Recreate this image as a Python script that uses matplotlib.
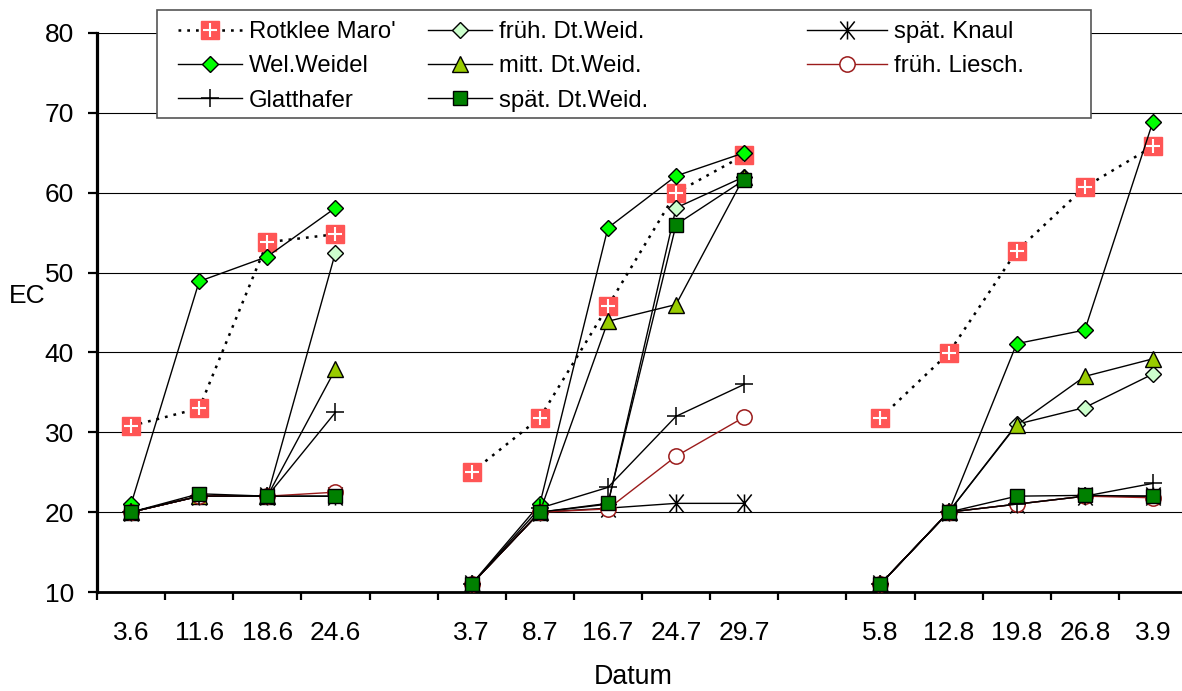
import numpy as np
import matplotlib
matplotlib.use("Agg")
import matplotlib.pyplot as plt
from matplotlib.path import Path
from matplotlib.patches import Rectangle

nan = np.nan

categories = ["3.6", "11.6", "18.6", "24.6", "", "3.7", "8.7", "16.7", "24.7", "29.7",
              "", "5.8", "12.8", "19.8", "26.8", "3.9"]

rotklee = [30.8, 33.0, 53.8, 54.8, nan, 25.0, 31.8, 45.8, 60.0, 64.7, nan, 31.8, 39.9, 52.7, 60.7, 65.8]
wel_weidel = [21.0, 48.9, 52.0, 58.1, nan, 11.0, 21.0, 55.6, 62.1, 65.0, nan, 11.0, 20.0, 41.1, 42.8, 68.9]
glatthafer = [20.0, 22.0, 22.0, 32.5, nan, 11.0, 20.5, 23.1, 32.0, 36.0, nan, 11.0, 20.0, 21.0, 22.0, 23.6]
frueh_dt = [20.0, 22.0, 22.0, 52.5, nan, 11.0, 20.0, 21.0, 58.1, 62.0, nan, 11.0, 20.0, 31.0, 33.1, 37.3]
mitt_dt = [20.0, 22.0, 22.0, 37.9, nan, 11.0, 20.0, 43.9, 46.0, 62.0, nan, 11.0, 20.0, 30.9, 37.0, 39.2]
spaet_dt = [20.0, 22.3, 22.0, 22.0, nan, 11.0, 20.0, 21.1, 56.0, 61.6, nan, 11.0, 20.0, 22.0, 22.1, 22.0]
spaet_knaul = [20.0, 22.0, 22.0, 22.0, nan, 11.0, 20.0, 20.5, 21.1, 21.1, nan, 11.0, 20.0, 21.0, 22.0, 22.0]
frueh_liesch = [20.0, 22.0, 22.0, 22.5, nan, 11.0, 20.0, 20.4, 27.0, 31.9, nan, 11.0, 20.0, 21.0, 22.0, 21.8]

labels = ["Rotklee Maro'", "Wel.Weidel", "Glatthafer", "früh. Dt.Weid.", "mitt. Dt.Weid.",
          "spät. Dt.Weid.", "spät. Knaul", "früh. Liesch."]

plt.rcParams['font.family'] = ['Liberation Sans', 'DejaVu Sans']

W, H = 1182, 691
fig = plt.figure(figsize=(W / 100, H / 100), dpi=100)
ax = fig.add_axes([97 / W, 1 - 592 / H, 1090 / W, (592 - 33) / H])

x = np.arange(len(categories))

knaul_marker = Path([(-0.8, -1), (0.8, 1), (-0.8, 1), (0.8, -1), (0, -1), (0, 1)],
                    [Path.MOVETO, Path.LINETO, Path.MOVETO, Path.LINETO, Path.MOVETO, Path.LINETO])

lw = 1.0
red = '#FF5555'
# draw order: Rotklee, früh Dt, Knaul, Wel, mitt, Liesch, Glatthafer, spät Dt
h_rot_line, = ax.plot(x, rotklee, color='black', lw=1.8, linestyle=(0, (1.1, 2.4)),
                      marker='s', ms=13.5, mfc=red, mec=red, zorder=3.0)
h_rot_plus, = ax.plot(x, rotklee, linestyle='none', marker='+', ms=9.5, mec='white', mew=1.5, zorder=3.05)
h_fru, = ax.plot(x, frueh_dt, color='black', lw=lw, marker='D', ms=8, mfc='#CCFFCC', mec='black', mew=1, zorder=3.1)
h_kna, = ax.plot(x, spaet_knaul, color='black', lw=lw, marker=knaul_marker, ms=13, mfc='none', mec='black', mew=1.1, zorder=3.2)
h_wel, = ax.plot(x, wel_weidel, color='black', lw=lw, marker='D', ms=8, mfc='#00FF00', mec='black', mew=1, zorder=3.3)
h_mit, = ax.plot(x, mitt_dt, color='black', lw=lw, marker='^', ms=11, mfc='#99CC00', mec='black', mew=1, zorder=3.4)
h_lie, = ax.plot(x, frueh_liesch, color='#9B1B1B', lw=lw, marker='o', ms=11, mfc='white', mec='#9B1B1B', mew=1.1, zorder=3.5)
h_gla, = ax.plot(x, glatthafer, color='black', lw=lw, marker='+', ms=13, mec='black', mew=1.1, zorder=3.6)
h_spd, = ax.plot(x, spaet_dt, color='black', lw=lw, marker='s', ms=10, mfc='#008000', mec='black', mew=1, zorder=3.7)

ax.set_xlim(-0.5, len(categories) - 0.5)
ax.set_ylim(10, 80)
ax.set_yticks(np.arange(10, 81, 10))
ax.yaxis.grid(True, color='black', lw=0.8)
ax.set_axisbelow(True)

ax.set_xticks(np.arange(-0.5, len(categories), 1.0))
ax.set_xticklabels([])
ax.set_xticks(x, minor=True)
ax.set_xticklabels(categories, minor=True)
ax.tick_params(axis='x', which='major', length=6, width=1.6, direction='out')
ax.tick_params(axis='x', which='minor', length=0, pad=21, labelsize=19)
ax.tick_params(axis='y', which='major', length=6.5, width=1.6, pad=10, labelsize=19)

for s in ['top', 'right']:
    ax.spines[s].set_visible(False)
ax.spines['left'].set_linewidth(2.3)
ax.spines['bottom'].set_linewidth(2.0)

fig.text(633 / W, 1 - 677 / H, "Datum", ha='center', va='center', fontsize=19.3)
fig.text(27 / W, 1 - 296 / H, "EC", ha='center', va='center', fontsize=19)

# legend frame
rect = Rectangle((157 / W, 1 - 118 / H), (1091 - 157) / W, (118 - 10) / H, transform=fig.transFigure,
                 facecolor='white', edgecolor='#555555', lw=1.2, zorder=4)
fig.add_artist(rect)

common = dict(loc='upper left', frameon=False, borderpad=0, handletextpad=0.29,
              labelspacing=0.52, fontsize=17.2, borderaxespad=0)
top = 1 - 21 / H
leg1 = fig.legend([(h_rot_line, h_rot_plus), h_wel, h_gla], labels[0:3],
                  bbox_to_anchor=(178 / W, top), handlelength=2.68, **common)
leg2 = fig.legend([h_fru, h_mit, h_spd], labels[3:6],
                  bbox_to_anchor=(428 / W, top), handlelength=2.68, **common)
leg3 = fig.legend([h_kna, h_lie], labels[6:8],
                  bbox_to_anchor=(807 / W, top), handlelength=3.35, **common)
for lg in (leg1, leg2, leg3):
    lg.set_zorder(5)

fig.savefig("out.png", dpi=100)
